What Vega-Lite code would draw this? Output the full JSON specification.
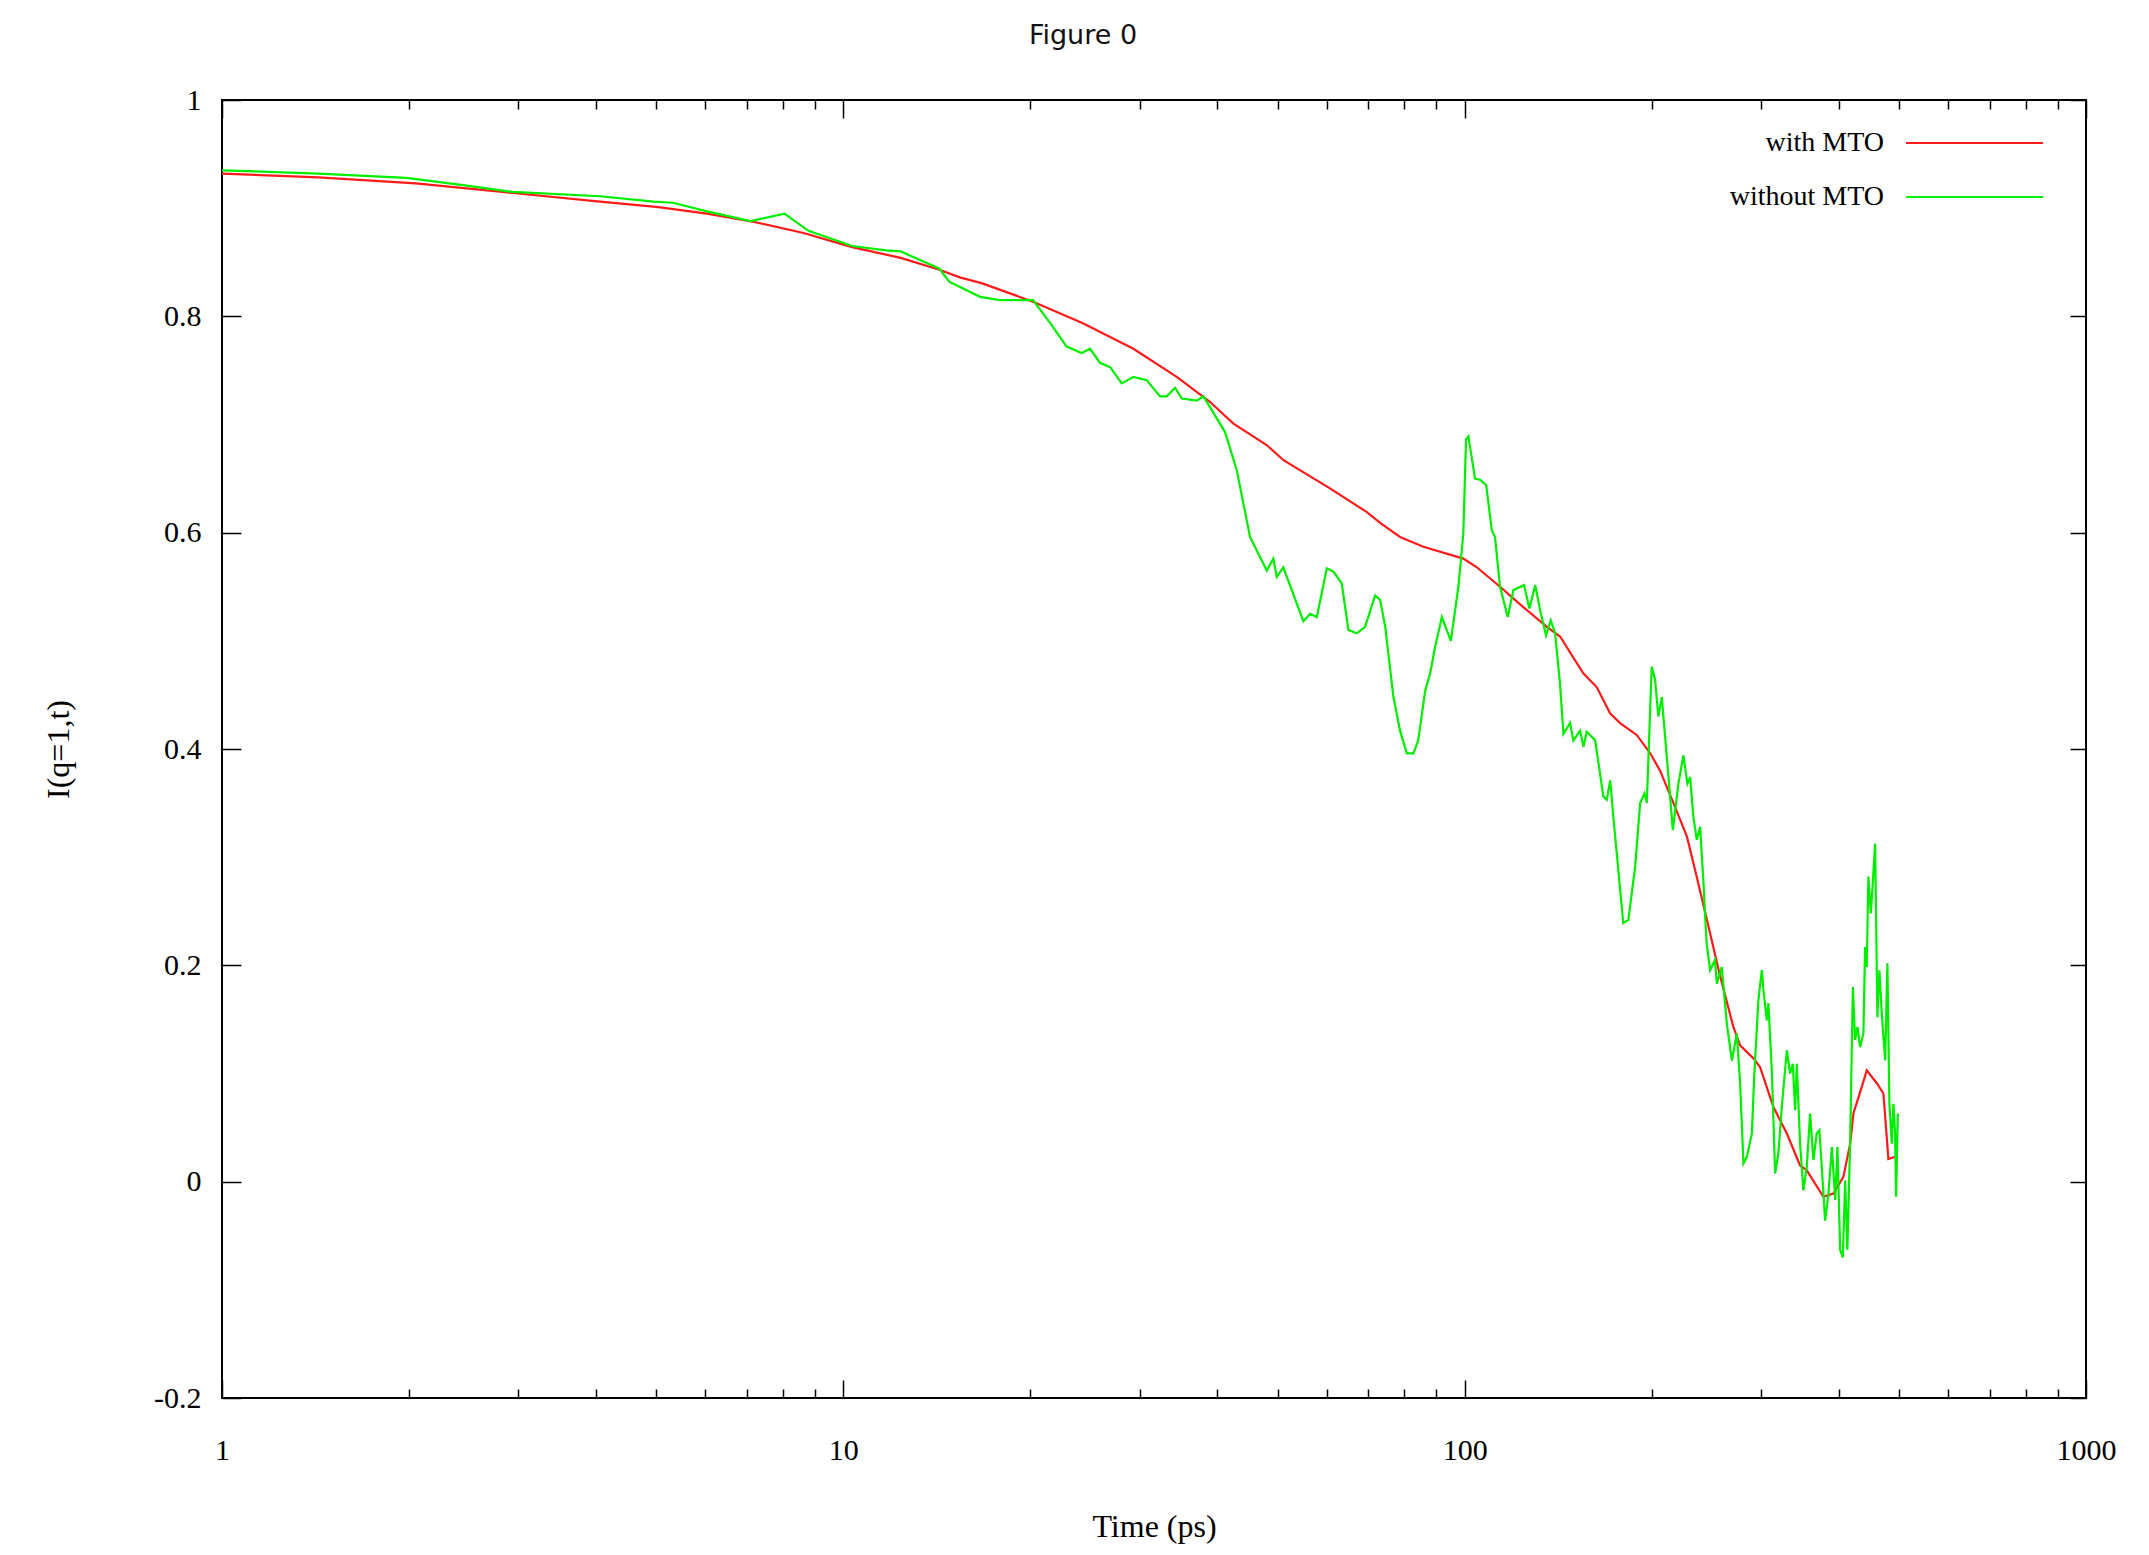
{
  "$schema": "https://vega.github.io/schema/vega-lite/v6.json",
  "width": 1864,
  "height": 1298,
  "autosize": {"type": "none"},
  "padding": {"left": 222, "top": 100, "right": 63, "bottom": 157},
  "background": "#ffffff",
  "title": {"text": "Figure 0", "font": "DejaVu Sans", "fontSize": 27, "fontWeight": "normal", "color": "#111111", "anchor": "middle", "dx": -71, "offset": 35},
  "config": {
    "view": {"stroke": "#000000", "strokeWidth": 2},
    "axis": {"grid": false, "domain": false, "labelFont": "Liberation Serif", "titleFont": "Liberation Serif", "labelColor": "#000000", "titleColor": "#000000", "titleFontWeight": "normal", "tickColor": "#000000", "tickWidth": 1.5}
  },
  "data": {"values": [
    {"t":1,"I":0.932,"s":"with MTO"},{"t":1.43,"I":0.9285,"s":"with MTO"},{"t":2.05,"I":0.923,"s":"with MTO"},{"t":2.94,"I":0.914,"s":"with MTO"},{"t":4.06,"I":0.906,"s":"with MTO"},{"t":5.04,"I":0.901,"s":"with MTO"},{"t":6.03,"I":0.895,"s":"with MTO"},{"t":7.22,"I":0.887,"s":"with MTO"},{"t":8.63,"I":0.877,"s":"with MTO"},{"t":10.33,"I":0.864,"s":"with MTO"},{"t":12.37,"I":0.854,"s":"with MTO"},{"t":14.28,"I":0.843,"s":"with MTO"},{"t":15.4,"I":0.836,"s":"with MTO"},{"t":16.73,"I":0.8305,"s":"with MTO"},{"t":20.2,"I":0.8135,"s":"with MTO"},{"t":24.3,"I":0.7935,"s":"with MTO"},{"t":29.3,"I":0.77,"s":"with MTO"},{"t":34.4,"I":0.744,"s":"with MTO"},{"t":38.9,"I":0.721,"s":"with MTO"},{"t":42.4,"I":0.701,"s":"with MTO"},{"t":48.0,"I":0.681,"s":"with MTO"},{"t":51.1,"I":0.667,"s":"with MTO"},{"t":60.7,"I":0.641,"s":"with MTO"},{"t":69.6,"I":0.619,"s":"with MTO"},{"t":73.1,"I":0.609,"s":"with MTO"},{"t":78.7,"I":0.596,"s":"with MTO"},{"t":85.8,"I":0.587,"s":"with MTO"},{"t":99.5,"I":0.576,"s":"with MTO"},{"t":104.6,"I":0.568,"s":"with MTO"},{"t":114.0,"I":0.55,"s":"with MTO"},{"t":124.4,"I":0.531,"s":"with MTO"},{"t":135.6,"I":0.513,"s":"with MTO"},{"t":142.4,"I":0.504,"s":"with MTO"},{"t":155.2,"I":0.47,"s":"with MTO"},{"t":163.2,"I":0.457,"s":"with MTO"},{"t":171.4,"I":0.433,"s":"with MTO"},{"t":177.9,"I":0.424,"s":"with MTO"},{"t":189.2,"I":0.413,"s":"with MTO"},{"t":198.9,"I":0.396,"s":"with MTO"},{"t":206.3,"I":0.38,"s":"with MTO"},{"t":216.8,"I":0.35,"s":"with MTO"},{"t":227.9,"I":0.319,"s":"with MTO"},{"t":236.3,"I":0.282,"s":"with MTO"},{"t":245.2,"I":0.243,"s":"with MTO"},{"t":257.2,"I":0.192,"s":"with MTO"},{"t":270.7,"I":0.143,"s":"with MTO"},{"t":277.5,"I":0.126,"s":"with MTO"},{"t":291.5,"I":0.114,"s":"with MTO"},{"t":298.8,"I":0.106,"s":"with MTO"},{"t":314.0,"I":0.069,"s":"with MTO"},{"t":330.0,"I":0.0445,"s":"with MTO"},{"t":346.6,"I":0.015,"s":"with MTO"},{"t":355.3,"I":0.0105,"s":"with MTO"},{"t":377.8,"I":-0.014,"s":"with MTO"},{"t":392.1,"I":-0.011,"s":"with MTO"},{"t":406.9,"I":0.0044,"s":"with MTO"},{"t":417.3,"I":0.035,"s":"with MTO"},{"t":422.3,"I":0.063,"s":"with MTO"},{"t":435.7,"I":0.0876,"s":"with MTO"},{"t":443.8,"I":0.103,"s":"with MTO"},{"t":460.6,"I":0.091,"s":"with MTO"},{"t":472.0,"I":0.0815,"s":"with MTO"},{"t":480.8,"I":0.021,"s":"with MTO"},{"t":492.9,"I":0.023,"s":"with MTO"},
    {"t":1,"I":0.935,"s":"without MTO"},{"t":1.43,"I":0.932,"s":"without MTO"},{"t":1.98,"I":0.928,"s":"without MTO"},{"t":2.46,"I":0.921,"s":"without MTO"},{"t":2.94,"I":0.915,"s":"without MTO"},{"t":4.06,"I":0.911,"s":"without MTO"},{"t":4.95,"I":0.906,"s":"without MTO"},{"t":5.32,"I":0.905,"s":"without MTO"},{"t":6.03,"I":0.897,"s":"without MTO"},{"t":7.09,"I":0.888,"s":"without MTO"},{"t":8.04,"I":0.895,"s":"without MTO"},{"t":8.79,"I":0.879,"s":"without MTO"},{"t":10.33,"I":0.865,"s":"without MTO"},{"t":11.72,"I":0.861,"s":"without MTO"},{"t":12.37,"I":0.86,"s":"without MTO"},{"t":13.29,"I":0.852,"s":"without MTO"},{"t":14.28,"I":0.844,"s":"without MTO"},{"t":14.8,"I":0.832,"s":"without MTO"},{"t":16.6,"I":0.818,"s":"without MTO"},{"t":17.87,"I":0.815,"s":"without MTO"},{"t":20.2,"I":0.815,"s":"without MTO"},{"t":21.51,"I":0.794,"s":"without MTO"},{"t":22.88,"I":0.772,"s":"without MTO"},{"t":24.19,"I":0.766,"s":"without MTO"},{"t":24.95,"I":0.77,"s":"without MTO"},{"t":25.89,"I":0.757,"s":"without MTO"},{"t":26.88,"I":0.753,"s":"without MTO"},{"t":28.06,"I":0.738,"s":"without MTO"},{"t":29.3,"I":0.744,"s":"without MTO"},{"t":30.78,"I":0.741,"s":"without MTO"},{"t":32.34,"I":0.726,"s":"without MTO"},{"t":33.15,"I":0.726,"s":"without MTO"},{"t":34.19,"I":0.734,"s":"without MTO"},{"t":35.05,"I":0.724,"s":"without MTO"},{"t":37.06,"I":0.722,"s":"without MTO"},{"t":37.98,"I":0.726,"s":"without MTO"},{"t":41.15,"I":0.693,"s":"without MTO"},{"t":41.66,"I":0.683,"s":"without MTO"},{"t":42.97,"I":0.658,"s":"without MTO"},{"t":45.14,"I":0.596,"s":"without MTO"},{"t":48.03,"I":0.565,"s":"without MTO"},{"t":49.21,"I":0.576,"s":"without MTO"},{"t":49.84,"I":0.559,"s":"without MTO"},{"t":51.07,"I":0.568,"s":"without MTO"},{"t":55.01,"I":0.518,"s":"without MTO"},{"t":56.39,"I":0.525,"s":"without MTO"},{"t":57.81,"I":0.522,"s":"without MTO"},{"t":58.88,"I":0.544,"s":"without MTO"},{"t":59.99,"I":0.567,"s":"without MTO"},{"t":61.48,"I":0.564,"s":"without MTO"},{"t":63.42,"I":0.553,"s":"without MTO"},{"t":64.99,"I":0.51,"s":"without MTO"},{"t":67.04,"I":0.507,"s":"without MTO"},{"t":69.14,"I":0.513,"s":"without MTO"},{"t":71.76,"I":0.542,"s":"without MTO"},{"t":73.1,"I":0.538,"s":"without MTO"},{"t":74.5,"I":0.513,"s":"without MTO"},{"t":76.8,"I":0.448,"s":"without MTO"},{"t":78.7,"I":0.417,"s":"without MTO"},{"t":80.7,"I":0.396,"s":"without MTO"},{"t":82.7,"I":0.396,"s":"without MTO"},{"t":84.2,"I":0.408,"s":"without MTO"},{"t":86.4,"I":0.454,"s":"without MTO"},{"t":88.0,"I":0.47,"s":"without MTO"},{"t":89.6,"I":0.494,"s":"without MTO"},{"t":91.9,"I":0.522,"s":"without MTO"},{"t":95.0,"I":0.5,"s":"without MTO"},{"t":97.7,"I":0.55,"s":"without MTO"},{"t":99.5,"I":0.599,"s":"without MTO"},{"t":100.5,"I":0.686,"s":"without MTO"},{"t":101.4,"I":0.689,"s":"without MTO"},{"t":103.9,"I":0.65,"s":"without MTO"},{"t":105.9,"I":0.649,"s":"without MTO"},{"t":108.3,"I":0.644,"s":"without MTO"},{"t":110.6,"I":0.602,"s":"without MTO"},{"t":111.9,"I":0.596,"s":"without MTO"},{"t":114.0,"I":0.55,"s":"without MTO"},{"t":117.3,"I":0.522,"s":"without MTO"},{"t":119.8,"I":0.547,"s":"without MTO"},{"t":124.6,"I":0.5515,"s":"without MTO"},{"t":127.1,"I":0.53,"s":"without MTO"},{"t":129.9,"I":0.5515,"s":"without MTO"},{"t":132.3,"I":0.528,"s":"without MTO"},{"t":135.2,"I":0.505,"s":"without MTO"},{"t":137.6,"I":0.519,"s":"without MTO"},{"t":139.8,"I":0.507,"s":"without MTO"},{"t":142.4,"I":0.46,"s":"without MTO"},{"t":144.2,"I":0.414,"s":"without MTO"},{"t":147.8,"I":0.424,"s":"without MTO"},{"t":149.6,"I":0.408,"s":"without MTO"},{"t":153.4,"I":0.417,"s":"without MTO"},{"t":155.3,"I":0.402,"s":"without MTO"},{"t":157.2,"I":0.416,"s":"without MTO"},{"t":162.2,"I":0.408,"s":"without MTO"},{"t":167.2,"I":0.356,"s":"without MTO"},{"t":169.3,"I":0.353,"s":"without MTO"},{"t":171.5,"I":0.371,"s":"without MTO"},{"t":173.5,"I":0.337,"s":"without MTO"},{"t":180.0,"I":0.239,"s":"without MTO"},{"t":183.4,"I":0.242,"s":"without MTO"},{"t":188.1,"I":0.291,"s":"without MTO"},{"t":191.6,"I":0.35,"s":"without MTO"},{"t":194.7,"I":0.359,"s":"without MTO"},{"t":196.4,"I":0.35,"s":"without MTO"},{"t":200.0,"I":0.476,"s":"without MTO"},{"t":202.5,"I":0.464,"s":"without MTO"},{"t":205.0,"I":0.43,"s":"without MTO"},{"t":207.6,"I":0.448,"s":"without MTO"},{"t":211.5,"I":0.393,"s":"without MTO"},{"t":216.3,"I":0.325,"s":"without MTO"},{"t":220.8,"I":0.368,"s":"without MTO"},{"t":224.9,"I":0.394,"s":"without MTO"},{"t":228.3,"I":0.368,"s":"without MTO"},{"t":230.6,"I":0.374,"s":"without MTO"},{"t":233.4,"I":0.337,"s":"without MTO"},{"t":236.4,"I":0.316,"s":"without MTO"},{"t":239.3,"I":0.328,"s":"without MTO"},{"t":242.3,"I":0.276,"s":"without MTO"},{"t":243.8,"I":0.245,"s":"without MTO"},{"t":245.2,"I":0.22,"s":"without MTO"},{"t":248.3,"I":0.1955,"s":"without MTO"},{"t":252.9,"I":0.205,"s":"without MTO"},{"t":254.6,"I":0.183,"s":"without MTO"},{"t":259.3,"I":0.1985,"s":"without MTO"},{"t":264.2,"I":0.146,"s":"without MTO"},{"t":269.2,"I":0.112,"s":"without MTO"},{"t":274.2,"I":0.137,"s":"without MTO"},{"t":277.5,"I":0.091,"s":"without MTO"},{"t":281.0,"I":0.0167,"s":"without MTO"},{"t":284.6,"I":0.023,"s":"without MTO"},{"t":289.9,"I":0.0445,"s":"without MTO"},{"t":292.4,"I":0.097,"s":"without MTO"},{"t":297.0,"I":0.168,"s":"without MTO"},{"t":300.8,"I":0.1955,"s":"without MTO"},{"t":302.6,"I":0.177,"s":"without MTO"},{"t":306.4,"I":0.149,"s":"without MTO"},{"t":308.2,"I":0.165,"s":"without MTO"},{"t":312.1,"I":0.103,"s":"without MTO"},{"t":316.0,"I":0.0075,"s":"without MTO"},{"t":319.8,"I":0.026,"s":"without MTO"},{"t":323.9,"I":0.069,"s":"without MTO"},{"t":330.0,"I":0.1215,"s":"without MTO"},{"t":334.0,"I":0.1,"s":"without MTO"},{"t":337.4,"I":0.109,"s":"without MTO"},{"t":340.3,"I":0.066,"s":"without MTO"},{"t":342.4,"I":0.109,"s":"without MTO"},{"t":346.6,"I":0.035,"s":"without MTO"},{"t":350.9,"I":-0.008,"s":"without MTO"},{"t":355.3,"I":0.0136,"s":"without MTO"},{"t":359.7,"I":0.063,"s":"without MTO"},{"t":364.1,"I":0.02,"s":"without MTO"},{"t":368.7,"I":0.0445,"s":"without MTO"},{"t":372.3,"I":0.0475,"s":"without MTO"},{"t":375.6,"I":0.0136,"s":"without MTO"},{"t":380.3,"I":-0.036,"s":"without MTO"},{"t":385.0,"I":-0.011,"s":"without MTO"},{"t":389.9,"I":0.032,"s":"without MTO"},{"t":394.8,"I":-0.017,"s":"without MTO"},{"t":398.1,"I":0.032,"s":"without MTO"},{"t":402.1,"I":-0.063,"s":"without MTO"},{"t":406.1,"I":-0.07,"s":"without MTO"},{"t":409.6,"I":0.0013,"s":"without MTO"},{"t":413.0,"I":-0.063,"s":"without MTO"},{"t":417.3,"I":0.038,"s":"without MTO"},{"t":421.5,"I":0.18,"s":"without MTO"},{"t":425.0,"I":0.131,"s":"without MTO"},{"t":428.7,"I":0.143,"s":"without MTO"},{"t":433.0,"I":0.1245,"s":"without MTO"},{"t":438.3,"I":0.137,"s":"without MTO"},{"t":441.0,"I":0.217,"s":"without MTO"},{"t":443.8,"I":0.1985,"s":"without MTO"},{"t":446.4,"I":0.282,"s":"without MTO"},{"t":450.4,"I":0.248,"s":"without MTO"},{"t":453.8,"I":0.276,"s":"without MTO"},{"t":457.7,"I":0.3126,"s":"without MTO"},{"t":461.6,"I":0.152,"s":"without MTO"},{"t":465.0,"I":0.1955,"s":"without MTO"},{"t":469.2,"I":0.155,"s":"without MTO"},{"t":475.0,"I":0.112,"s":"without MTO"},{"t":479.0,"I":0.202,"s":"without MTO"},{"t":482.6,"I":0.072,"s":"without MTO"},{"t":486.9,"I":0.035,"s":"without MTO"},{"t":489.8,"I":0.072,"s":"without MTO"},{"t":492.9,"I":0.0445,"s":"without MTO"},{"t":494.7,"I":-0.014,"s":"without MTO"},{"t":497.9,"I":0.063,"s":"without MTO"}
  ]},
  "layer": [
    {
      "mark": {"type": "line", "strokeWidth": 2.2, "interpolate": "linear"},
      "encoding": {
        "x": {"field": "t", "type": "quantitative", "scale": {"type": "log", "domain": [1, 1000], "nice": false},
              "axis": {"orient": "bottom", "values": [1, 10, 100, 1000], "tickSize": -18, "labelPadding": 55, "labelFlush": false, "labelFontSize": 30, "labelExpr": "format(datum.value, 'd')", "title": "Time (ps)", "titleFontSize": 32, "titlePadding": 46}},
        "y": {"field": "I", "type": "quantitative", "scale": {"domain": [-0.2, 1], "nice": false, "zero": false},
              "axis": {"orient": "left", "values": [-0.2, 0, 0.2, 0.4, 0.6, 0.8, 1], "tickSize": -19, "labelPadding": 40, "labelFontSize": 30, "labelExpr": "datum.value < 0 ? '-' + format(-datum.value, '~g') : format(datum.value, '~g')", "title": "I(q=1,t)", "titleFontSize": 32, "titlePadding": 78}},
        "color": {"field": "s", "type": "nominal",
                  "scale": {"domain": ["with MTO", "without MTO"], "range": ["#ff1a1a", "#00ee00"]},
                  "legend": {"orient": "none", "legendX": 1683, "legendY": 30, "title": null, "padding": 0, "symbolType": "stroke", "symbolSize": 18769, "symbolStrokeWidth": 2, "clipHeight": 26, "rowPadding": 26, "labelAlign": "right", "labelOffset": -160, "labelFont": "Liberation Serif", "labelFontSize": 28, "labelColor": "#000000",
                             "encode": {"entries": {"update": {"width": {"value": 140}}}}}}
      }
    },
    {
      "mark": {"type": "point", "opacity": 0},
      "encoding": {
        "x": {"field": "t", "type": "quantitative", "axis": {"orient": "bottom", "values": [2,3,4,5,6,7,8,9,20,30,40,50,60,70,80,90,200,300,400,500,600,700,800,900], "tickSize": -9, "labels": false, "title": null}},
        "y": {"field": "I", "type": "quantitative", "axis": {"orient": "right", "values": [-0.2, 0, 0.2, 0.4, 0.6, 0.8, 1], "tickSize": -16, "labels": false, "title": null}}
      }
    },
    {
      "mark": {"type": "point", "opacity": 0},
      "encoding": {
        "x": {"field": "t", "type": "quantitative", "axis": {"orient": "top", "values": [1, 10, 100, 1000], "tickSize": -18, "labels": false, "title": null}},
        "y": {"field": "I", "type": "quantitative", "axis": null}
      }
    },
    {
      "mark": {"type": "point", "opacity": 0},
      "encoding": {
        "x": {"field": "t", "type": "quantitative", "axis": {"orient": "top", "values": [2,3,4,5,6,7,8,9,20,30,40,50,60,70,80,90,200,300,400,500,600,700,800,900], "tickSize": -9, "labels": false, "title": null}},
        "y": {"field": "I", "type": "quantitative", "axis": null}
      }
    }
  ],
  "resolve": {"axis": {"x": "independent", "y": "independent"}}
}
